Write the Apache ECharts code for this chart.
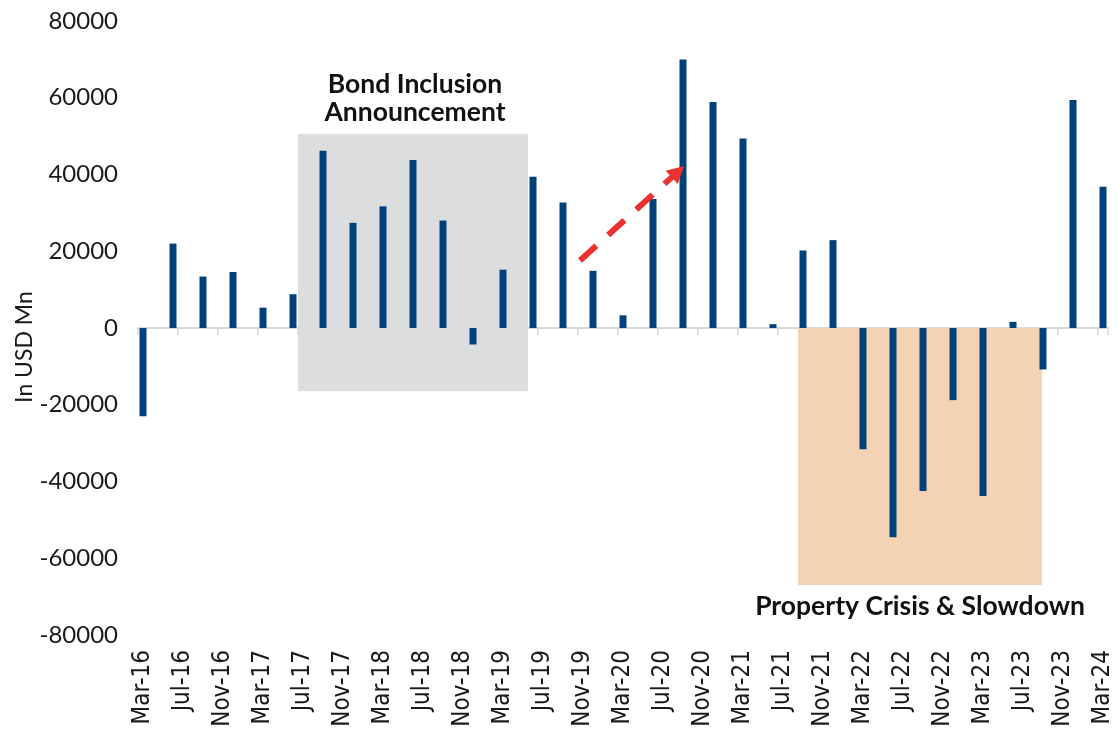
<!DOCTYPE html>
<html>
<head>
<meta charset="utf-8">
<title>Portfolio flows</title>
<script src="https://cdn.jsdelivr.net/npm/echarts@6/dist/echarts.min.js"></script>
<style>
  html, body { margin: 0; padding: 0; background: #ffffff; }
  #chart { width: 1117px; height: 734px; }
</style>
</head>
<body>
<div id="chart"></div>
<script>
// quarterly flows, In USD Mn
const quarters = [
  "Mar-16", "Jun-16", "Sep-16", "Dec-16",
  "Mar-17", "Jun-17", "Sep-17", "Dec-17",
  "Mar-18", "Jun-18", "Sep-18", "Dec-18",
  "Mar-19", "Jun-19", "Sep-19", "Dec-19",
  "Mar-20", "Jun-20", "Sep-20", "Dec-20",
  "Mar-21", "Jun-21", "Sep-21", "Dec-21",
  "Mar-22", "Jun-22", "Sep-22", "Dec-22",
  "Mar-23", "Jun-23", "Sep-23", "Dec-23",
  "Mar-24"
];
const flows = [
  -23000, 22000, 13400, 14600,
  5300, 8800, 46200, 27400,
  31700, 43800, 28000, -4300,
  15200, 39400, 32700, 14900,
  3300, 33600, 70000, 58900,
  49400, 1000, 20200, 22900,
  -31600, -54500, -42500, -18800,
  -43800, 1600, -10800, 59400,
  36800
];
const monthNames = ["Jan", "Feb", "Mar", "Apr", "May", "Jun", "Jul", "Aug", "Sep", "Oct", "Nov", "Dec"];

// shaded periods and arrow, in [month index from Mar-16, USD Mn]
const bondBox = [[16, 50600], [39, -16500]];
const propertyBox = [[66, 0], [90.4, -67000]];
const arrowLine = [[44.2, 17600], [54, 40750]];

// monthly axis Mar-16 .. Mar-24, a label every 4 months
const months = [];
for (let y = 16; y <= 24; y++) {
  monthNames.forEach((m, i) => {
    if ((y === 16 && i < 2) || (y === 24 && i > 2)) return;
    months.push(m + "-" + y);
  });
}

const chart = echarts.init(document.getElementById("chart"));

const option = {
  animation: false,
  backgroundColor: "#ffffff",
  grid: { left: 138, right: 9, top: 21, bottom: 99 },
  xAxis: [
    {
      type: "category",
      data: months,
      position: "bottom",
      axisLine: { show: false, onZero: false },
      axisTick: { show: false },
      axisLabel: {
        interval: 3,
        rotate: 90,
        margin: 15,
        fontFamily: "DejaVu Sans Condensed, DejaVu Sans",
        fontSize: 24,
        color: "#1a1a1a",
      },
    },
    {
      // zero line with ticks
      type: "category",
      data: months,
      position: "bottom",
      axisLine: { show: true, onZero: true, lineStyle: { color: "#d9d9d9", width: 2 } },
      axisTick: { show: true, interval: 3, length: 7, lineStyle: { color: "#d9d9d9", width: 1.5 } },
      axisLabel: { show: false },
    },
    {
      // month index axis for the annotations
      type: "value",
      show: false,
      position: "top",
      min: 0,
      max: months.length,
    },
  ],
  yAxis: {
    type: "value",
    min: -80000,
    max: 80000,
    interval: 20000,
    splitLine: { show: false },
    axisLine: { show: false },
    axisTick: { show: false },
    axisLabel: {
      margin: 20,
      fontFamily: "Lato",
      fontSize: 24,
      color: "#1a1a1a",
      formatter: (v) => String(v),
    },
    name: "In USD Mn",
    nameLocation: "middle",
    nameRotate: 90,
    nameGap: 102,
    nameMoveOverlap: false,
    nameTextStyle: {
      fontFamily: "Lato",
      fontSize: 23,
      color: "#1a1a1a",
      padding: [0, 38, 0, 0],
    },
  },
  series: [
    {
      type: "bar",
      xAxisIndex: 0,
      barWidth: 7,
      data: quarters.map((q, i) => [q, flows[i]]),
      itemStyle: { color: "#01417b" },
      silent: true,
    },
    {
      type: "line",
      xAxisIndex: 2,
      data: [],
      silent: true,
      markArea: {
        silent: true,
        data: [
          [
            {
              coord: bondBox[0],
              itemStyle: { color: "#dcdddf" },
              label: {
                show: true,
                position: "top",
                distance: 7,
                offset: [2, 0],
                formatter: "Bond Inclusion\nAnnouncement",
                fontFamily: "Lato",
                fontWeight: "bold",
                fontSize: 26.5,
                lineHeight: 28,
                color: "#111111",
              },
            },
            { coord: bondBox[1] },
          ],
          [
            {
              coord: propertyBox[0],
              itemStyle: { color: "#f4d3b5" },
              label: {
                show: true,
                position: "bottom",
                distance: 7,
                formatter: "Property Crisis & Slowdown",
                fontFamily: "Lato",
                fontWeight: "bold",
                fontSize: 26.5,
                lineHeight: 28,
                color: "#111111",
              },
            },
            { coord: propertyBox[1] },
          ],
        ],
      },
      markLine: {
        silent: true,
        symbol: ["none", "triangle"],
        symbolSize: [18, 17],
        label: { show: false },
        lineStyle: { color: "#ec3131", width: 6, type: [22, 16], cap: "butt" },
        data: [[{ coord: arrowLine[0] }, { coord: arrowLine[1] }]],
      },
    },
  ],
};

chart.setOption(option);
window.addEventListener("resize", () => chart.resize());
</script>
</body>
</html>
